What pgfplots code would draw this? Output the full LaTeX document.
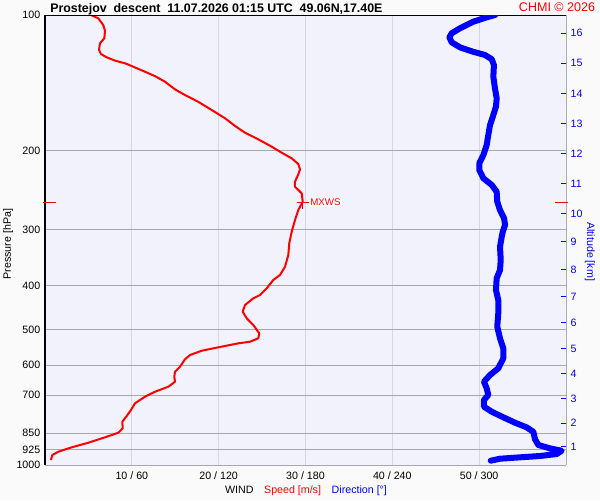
\documentclass[border=0pt]{standalone}
\usepackage{fontspec}
\setmainfont{Liberation Sans}
\usepackage{pgfplots}
\pgfplotsset{compat=1.18}
\definecolor{plotbg}{RGB}{242,242,252}
\definecolor{pagebg}{RGB}{250,250,250}
\definecolor{hgrid}{RGB}{168,168,168}
\definecolor{vgrid}{RGB}{214,214,222}
\definecolor{dirblue}{RGB}{0,0,255}
\definecolor{spdred}{RGB}{255,0,0}

% wind speed [m/s] vs pressure [hPa]
\pgfplotstableread{
s p
5.30 100
6.14 101.7
6.71 105.3
6.91 108.4
6.83 112.7
6.33 115.6
6.22 119.6
6.45 122.1
7.11 124.2
8.06 126.3
9.21 128.0
10.17 130.3
11.52 133.7
12.67 136.7
13.82 140.7
14.97 146.3
16.12 150.6
17.65 155.9
19.20 162.6
20.73 169.6
21.88 176.4
23.03 182.6
24.56 188.9
26.11 196.2
27.26 202.3
28.41 208.2
29.17 214.4
29.37 220.3
29.14 226.8
28.79 234.6
28.79 240.7
29.56 249.0
29.68 260.0
29.17 271.3
28.79 285.5
28.41 303.1
28.13 321.7
28.02 341.5
27.64 362.6
27.06 378.3
26.29 388.1
25.53 404.9
24.76 419.0
23.99 426.2
23.03 441.0
22.77 456.4
23.23 472.1
23.99 488.6
24.68 509.8
24.56 523.0
23.61 532.1
22.26 536.6
19.96 547.6
18.05 557.2
16.70 569.6
16.12 582.3
15.55 604.8
14.97 620.5
14.89 636.6
14.97 653.0
14.20 669.9
12.67 687.3
11.52 705.1
10.36 729.4
9.90 754.8
9.41 778.3
8.90 801.4
8.95 828.8
8.44 847.7
6.91 867.9
4.99 892.2
3.07 913.5
1.53 934.2
0.84 950.1
0.69 974.7
}\speed

% wind direction [deg] vs pressure [hPa]
\pgfplotstableread{
d p
313.0 98.5
310.9 100
305.2 101.2
295.9 103.5
286.8 107.0
281.0 109.8
279.4 112.1
281.0 115.0
286.8 118.0
295.9 120.7
304.0 122.7
308.7 125.4
310.2 129.2
309.8 137.1
310.9 145.5
312.1 153.1
311.6 159.9
309.4 168.3
307.5 175.6
306.3 184.8
305.2 194.5
302.9 204.7
300.1 213.6
300.1 221.1
302.9 230.6
308.7 238.6
312.1 247.0
312.5 260.0
314.4 271.3
317.2 283.0
317.9 292.9
316.3 303.1
315.6 310.9
314.4 327.3
314.9 350.4
314.4 368.8
312.1 384.8
311.6 408.4
313.2 429.9
313.2 460.2
312.5 492.9
314.4 523.0
316.7 550.4
316.7 579.4
313.2 609.8
307.5 631.0
303.3 653.0
305.2 675.4
306.3 699.0
303.3 717.2
303.3 742.0
308.7 761.4
316.7 783.5
324.8 805.4
332.8 824.8
337.4 843.4
338.6 876.8
340.9 902.7
348.9 918.2
357.0 929.5
353.6 945.3
342.0 955.0
328.2 961.4
314.4 968.3
308.0 978.2
}\direction

\begin{document}
\begin{tikzpicture}
\useasboundingbox (0,0) rectangle (450pt,375pt);
\fill[pagebg] (0,0) rectangle (450pt,375pt);

\begin{axis}[
  at={(33.75pt,26.25pt)}, anchor=south west,
  scale only axis, width=390.75pt, height=337.5pt,
  xmin=0, xmax=60,
  ymode=log, ymin=100, ymax=1000, y dir=reverse,
  axis background/.style={fill=plotbg},
  axis line style={draw=none},
  clip mode=individual,
  xtick={10,20,30,40,50},
  xticklabels={10 / 60, 20 / 120, 30 / 180, 40 / 240, 50 / 300},
  ytick={100,200,300,400,500,600,700,850,925,1000},
  yticklabels={100,200,300,400,500,600,700,850,925,1000},
  minor tick num=0,
  major tick length=0pt,
  xmajorgrids, ymajorgrids,
  x grid style={vgrid, line width=0.75pt},
  y grid style={hgrid, line width=0.75pt},
  tick label style={font=\fontsize{8pt}{9pt}\selectfont},
  xticklabel style={yshift=-1.5pt},
]
\addplot[spdred, line width=1.5pt, line join=round] table[x=s, y=p] {\speed};
\addplot[spdred, only marks, mark=+, mark size=4.5pt, line width=0.75pt] coordinates {(29.68,261.1)};
\node[anchor=west, fill=white, inner sep=1pt, text=spdred, font=\fontsize{7.3pt}{8pt}\selectfont]
  at (axis cs:29.68,261.1) [xshift=4.5pt] {MXWS};
\draw[black, line width=0.75pt] (axis cs:0,1000) -- (axis cs:0,100) -- (axis cs:60,100);
\draw[vgrid!80!black, line width=0.75pt] (axis cs:60,100) -- (axis cs:60,1000);
\draw[spdred, line width=0.75pt] (axis cs:-0.23,261.1) -- (axis cs:1.27,261.1);
\draw[spdred, line width=0.75pt] (axis cs:58.73,261.1) -- (axis cs:60.23,261.1);
\end{axis}

\begin{axis}[
  at={(33.75pt,26.25pt)}, anchor=south west,
  scale only axis, width=390.75pt, height=337.5pt,
  xmin=0, xmax=360,
  ymode=log, ymin=100, ymax=1000, y dir=reverse,
  hide x axis,
  axis y line*=right,
  y axis line style={draw=none},
  ytick={909.6,806.6,713.3,627.5,552.0,482.3,421.9,368.1,318.4,276.3,236.8,203.0,174.1,149.3,128.0,109.7},
  yticklabels={1,2,3,4,5,6,7,8,9,10,11,12,13,14,15,16},
  minor tick num=0,
  tick align=inside, major tick length=3.75pt,
  ytick style={dirblue, line width=0.75pt},
  yticklabel style={text=dirblue, font=\fontsize{8pt}{9pt}\selectfont},
]
\addplot[dirblue, line width=4.5pt, line join=round, line cap=round] table[x=d, y=p] {\direction};
\end{axis}

\node[anchor=base west, inner sep=0pt, font=\bfseries\fontsize{9.3pt}{10pt}\selectfont] at (37.5pt,365.5pt)
  {Prostejov~~descent~~11.07.2026 01:15 UTC~~49.06N,17.40E};
\node[anchor=base east, inner sep=0pt, text=spdred, font=\fontsize{9.4pt}{10pt}\selectfont] at (446.5pt,366pt)
  {CHMI © 2026};
\node[rotate=90, font=\fontsize{8pt}{9pt}\selectfont] at (6pt,192pt) {Pressure [hPa]};
\node[rotate=-90, text=dirblue, font=\fontsize{8pt}{9pt}\selectfont] at (442.5pt,186.2pt) {Altitude [km]};
\node[font=\fontsize{8pt}{9pt}\selectfont] at (229.5pt,6.75pt)
  {WIND\quad\textcolor{spdred}{Speed [m/s]}\quad\textcolor{dirblue}{Direction [°]}};
\end{tikzpicture}
\end{document}
